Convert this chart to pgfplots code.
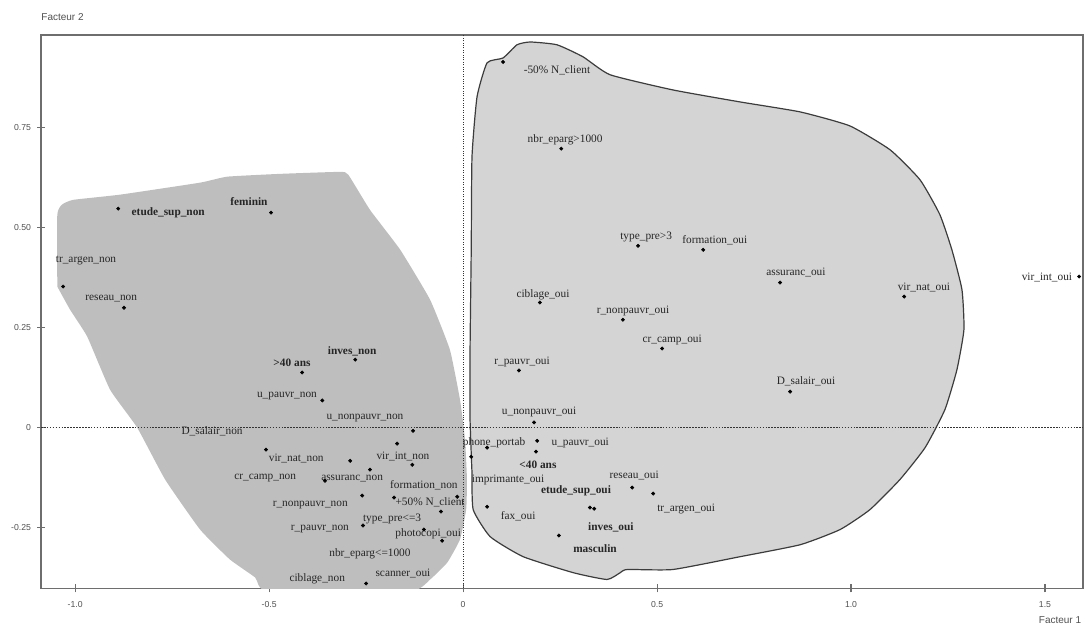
\documentclass[border=0pt]{standalone}
\usepackage{pgfplots}
\pgfplotsset{compat=1.18}
\usepackage{fontspec}
\setmainfont{Liberation Serif}
\newfontfamily\sansf{Liberation Sans}
\definecolor{leftgray}{RGB}{190,190,190}
\definecolor{rightgray}{RGB}{212,212,212}
\definecolor{outline}{RGB}{60,60,60}
\definecolor{framegray}{RGB}{110,110,110}
\definecolor{ticktext}{RGB}{80,80,80}
\newcommand{\lf}{\fontsize{8.5}{9}\selectfont}
\newcommand{\lbl}[3]{\node[font=\lf, text=black!85, inner sep=0pt] at (axis cs:#1,#2) {#3};}
\newcommand{\lblb}[3]{\node[font=\lf\bfseries, text=black!85, inner sep=0pt] at (axis cs:#1,#2) {#3};}
\begin{document}
\begin{tikzpicture}
\useasboundingbox (0,0) rectangle (816pt,474.75pt);
\begin{axis}[
  at={(30.75pt,33.4pt)}, anchor=south west,
  scale only axis, width=781.5pt, height=415.1pt,
  xmin=-1.088, xmax=1.598, ymin=-0.4025, ymax=0.9825,
  axis line style={framegray, line width=1pt},
  xtick={-1,-0.5,0,0.5,1,1.5},
  xticklabels={-1.0,-0.5,0,0.5,1.0,1.5},
  ytick={-0.25,0,0.25,0.5,0.75},
  yticklabels={-0.25,0,0.25,0.50,0.75},
  xtick pos=bottom, ytick pos=left,
  tick align=center, major tick length=6pt,
  tick style={framegray, line width=0.8pt},
  tick label style={font=\sansf\fontsize{6.5}{7}\selectfont, text=ticktext},
  xticklabel style={yshift=-3pt},
  yticklabel style={xshift=-1pt},
  clip=true,
]
% left region
\addplot[draw=none, fill=leftgray, smooth, tension=0.25] coordinates {
(-1.046,0.353) (-1.046,0.533) (-1.034,0.558) (-1.005,0.570) (-0.884,0.583)
(-0.678,0.613) (-0.608,0.628) (-0.472,0.635) (-0.317,0.640) (-0.296,0.633)
(-0.240,0.545) (-0.162,0.445) (-0.085,0.320) (-0.034,0.195) (-0.008,0.070)
(0.005,-0.030) (0.010,-0.130) (0.008,-0.205) (-0.008,-0.280) (-0.041,-0.338)
(-0.085,-0.380) (-0.137,-0.410) (-0.503,-0.410) (-0.536,-0.375) (-0.601,-0.330)
(-0.678,-0.255) (-0.768,-0.130) (-0.840,0.000) (-0.910,0.095) (-0.969,0.228)
(-1.013,0.295) (-1.046,0.353)
} -- cycle;
% right region
\addplot[draw=outline, line width=0.9pt, fill=rightgray, smooth, tension=0.3] coordinates {
(0.023,-0.113) (0.018,0.020) (0.018,0.195) (0.021,0.445) (0.023,0.678)
(0.036,0.828) (0.062,0.913) (0.103,0.925) (0.139,0.958) (0.173,0.965)
(0.242,0.958) (0.309,0.928) (0.379,0.883) (0.541,0.845) (0.714,0.815)
(0.869,0.790) (0.997,0.755) (1.101,0.695) (1.178,0.620) (1.229,0.533)
(1.260,0.445) (1.286,0.345) (1.291,0.245) (1.273,0.145) (1.242,0.045)
(1.191,-0.050) (1.126,-0.130) (1.049,-0.205) (0.972,-0.255) (0.869,-0.293)
(0.714,-0.323) (0.541,-0.355) (0.423,-0.355) (0.405,-0.363) (0.371,-0.380)
(0.284,-0.363) (0.155,-0.323) (0.070,-0.273) (0.026,-0.205) (0.023,-0.113)
} -- cycle;
% zero lines
\addplot[black!80, line width=0.6pt, dash pattern=on 1.2pt off 1pt] coordinates {(-1.088,0) (1.598,0)};
\addplot[black!80, line width=0.7pt, dash pattern=on 0.8pt off 1pt] coordinates {(0,-0.4025) (0,0.9825)};
% points
\addplot[only marks, mark=*, mark size=1.25pt, black] coordinates {
(-0.889,0.548) (-0.495,0.538) (-1.031,0.353) (-0.874,0.300) (-0.415,0.138)
(-0.278,0.170) (-0.363,0.068) (-0.129,-0.008) (-0.508,-0.055) (-0.170,-0.040)
(-0.291,-0.083) (-0.131,-0.093) (-0.240,-0.105) (-0.356,-0.133) (-0.260,-0.170)
(-0.178,-0.175) (-0.015,-0.173) (-0.057,-0.210) (-0.258,-0.245) (-0.101,-0.255)
(-0.054,-0.283) (-0.250,-0.390)
(0.103,0.915) (0.253,0.698) (0.451,0.455) (0.619,0.445) (0.817,0.363)
(0.412,0.270) (0.513,0.198) (0.843,0.090) (1.137,0.328) (1.588,0.378)
(0.198,0.313) (0.144,0.143) (0.183,0.013) (0.191,-0.033) (0.188,-0.060)
(0.062,-0.050) (0.021,-0.073) (0.062,-0.198) (0.327,-0.200) (0.338,-0.203)
(0.247,-0.270) (0.436,-0.150) (0.490,-0.165)
};
% labels left
\lblb{-0.760}{0.538}{etude\_sup\_non}
\lblb{-0.552}{0.565}{feminin}
\lbl{-0.972}{0.418}{tr\_argen\_non}
\lbl{-0.907}{0.323}{reseau\_non}
\lblb{-0.441}{0.163}{>40 ans}
\lblb{-0.286}{0.190}{inves\_non}
\lbl{-0.454}{0.080}{u\_pauvr\_non}
\lbl{-0.253}{0.025}{u\_nonpauvr\_non}
\lbl{-0.647}{-0.008}{D\_salair\_non}
\lbl{-0.430}{-0.078}{vir\_nat\_non}
\lbl{-0.155}{-0.073}{vir\_int\_non}
\lbl{-0.510}{-0.125}{cr\_camp\_non}
\lbl{-0.286}{-0.128}{assuranc\_non}
\lbl{-0.101}{-0.145}{formation\_non}
\lbl{-0.394}{-0.193}{r\_nonpauvr\_non}
\lbl{-0.085}{-0.188}{+50\% N\_client}
\lbl{-0.183}{-0.228}{type\_pre<=3}
\lbl{-0.369}{-0.255}{r\_pauvr\_non}
\lbl{-0.090}{-0.265}{photocopi\_oui}
\lbl{-0.240}{-0.315}{nbr\_eparg<=1000}
\lbl{-0.376}{-0.378}{ciblage\_non}
\lbl{-0.155}{-0.365}{scanner\_oui}
% labels right
\lbl{0.242}{0.893}{-50\% N\_client}
\lbl{0.263}{0.720}{nbr\_eparg>1000}
\lbl{0.472}{0.478}{type\_pre>3}
\lbl{0.649}{0.470}{formation\_oui}
\lbl{0.858}{0.388}{assuranc\_oui}
\lbl{0.438}{0.293}{r\_nonpauvr\_oui}
\lbl{0.539}{0.220}{cr\_camp\_oui}
\lbl{0.884}{0.115}{D\_salair\_oui}
\lbl{1.188}{0.350}{vir\_nat\_oui}
\lbl{1.505}{0.375}{vir\_int\_oui}
\lbl{0.206}{0.333}{ciblage\_oui}
\lbl{0.152}{0.165}{r\_pauvr\_oui}
\lbl{0.196}{0.038}{u\_nonpauvr\_oui}
\lbl{0.302}{-0.038}{u\_pauvr\_oui}
\lblb{0.193}{-0.093}{<40 ans}
\lbl{0.080}{-0.038}{phone\_portab}
\lbl{0.116}{-0.130}{imprimante\_oui}
\lbl{0.142}{-0.223}{fax\_oui}
\lblb{0.291}{-0.158}{etude\_sup\_oui}
\lblb{0.381}{-0.250}{inves\_oui}
\lblb{0.340}{-0.303}{masculin}
\lbl{0.441}{-0.120}{reseau\_oui}
\lbl{0.575}{-0.203}{tr\_argen\_oui}
\end{axis}
\node[font=\sansf\fontsize{7.5}{8}\selectfont, text=ticktext] at (46.9pt,462pt) {Facteur 2};
\node[font=\sansf\fontsize{7.5}{8}\selectfont, text=ticktext] at (795pt,9.75pt) {Facteur 1};
\end{tikzpicture}
\end{document}
